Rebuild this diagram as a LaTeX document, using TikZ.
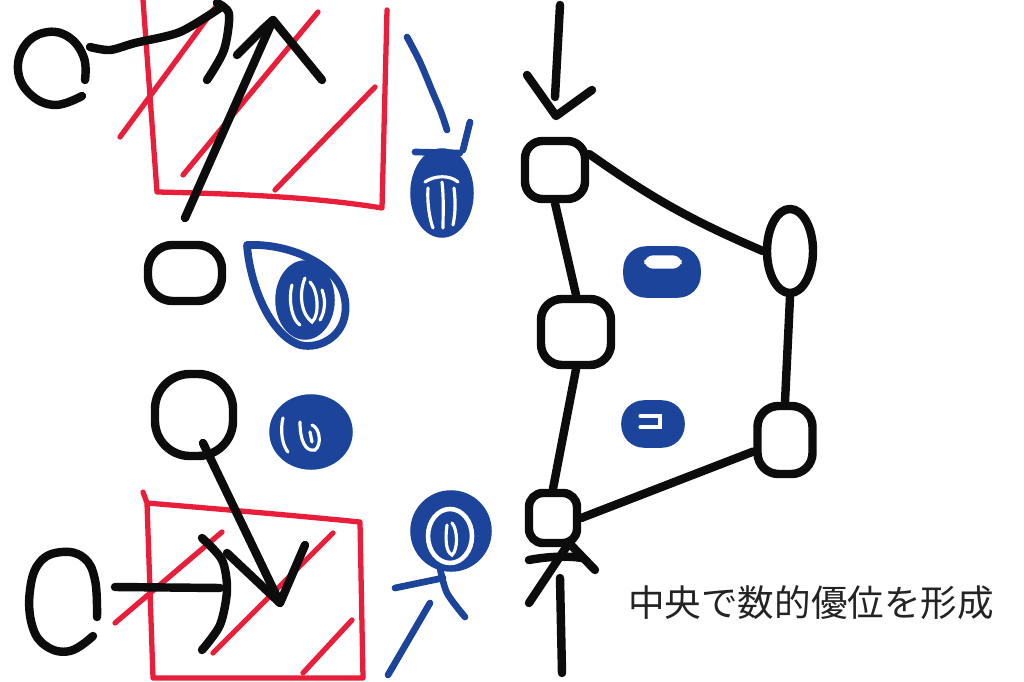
\documentclass[tikz,border=0pt]{standalone}
\usepackage{fontspec}
\newfontfamily\jp{Noto Sans CJK JP}
\usetikzlibrary{shapes.geometric}
\definecolor{pen}{RGB}{12,12,12}
\definecolor{rd}{RGB}{232,30,58}
\definecolor{bl}{RGB}{28,68,155}
\definecolor{txt}{RGB}{35,35,35}
\tikzset{
  ink/.style={draw=pen, line width=2.4pt, line cap=round, line join=round},
  redink/.style={draw=rd, line width=1.5pt, line cap=round, line join=round},
  blueink/.style={draw=bl, line width=1.9pt, line cap=round, line join=round},
  gap/.style={draw=white, line width=0.9pt, line cap=round},
  gnode/.style={ink, rounded corners=5pt, inner sep=0pt},
  blob/.style={fill=bl, draw=bl, line width=1pt, inner sep=0pt},
}
\begin{document}
\begin{tikzpicture}[x=0.01cm, y=-0.01cm]
\useasboundingbox (0,0) rectangle (1024,682);
\fill[white] (0,0) rectangle (1024,682);

% ---------- red zones ----------
\draw[redink] (143,0) -- (157,192) .. controls (250,194) and (320,198) .. (382,208) -- (387,10);
\draw[redink] (120,137) -- (217,5);
\draw[redink] (183,175) -- (318,12);
\draw[redink] (275,190) -- (375,87);

\draw[redink] (143,492) -- (147,503) .. controls (230,510) and (300,516) .. (360,522) -- (363,678) -- (153,678) -- (147,503);
\draw[redink] (115,623) -- (222,532);
\draw[redink] (213,653) -- (333,533);
\draw[redink] (303,673) -- (352,620);

% ---------- left black players ----------
\draw[ink] plot[smooth, tension=0.7] coordinates {(85,80) (84,58) (70,38) (48,32) (26,44) (18,70) (30,94) (55,105) (82,96)};
\draw[ink] plot[smooth, tension=0.7] coordinates {(97,617) (95,580) (84,558) (62,552) (40,562) (30,590) (32,625) (46,646) (70,651) (93,636)};

\node[gnode, rounded corners=7pt, minimum width=0.74cm, minimum height=0.56cm] (p1) at (185,273) {};
\node[gnode, rounded corners=10pt, minimum width=0.78cm, minimum height=0.82cm] (p2) at (194,415) {};

% arrow from top-left player
\coordinate (a1s) at (90,47);
\coordinate (a1t) at (220,8);
\draw[ink] plot[smooth] coordinates {(a1s) (110,50) (135,43) (180,32) (a1t)};
\draw[ink] plot[smooth] coordinates {(217,3) (229,14) (224,50) (207,80)};

% long up arrow
\coordinate (a2s) at (185,218);
\coordinate (a2t) at (273,20);
\draw[ink] (a2s) -- (a2t);
\draw[ink] (237,55) -- (262,30) -- (a2t) -- (322,80);

% arrow from lower player into zone
\coordinate (a3t) at (280,603);
\draw[ink] (203,443) -- (a3t);
\draw[ink] (227,553) -- (a3t) -- (305,545);

% arrow from bottom-left player
\coordinate (a4s) at (115,587);
\coordinate (a4t) at (220,588);
\draw[ink] (a4s) -- (a4t);
\draw[ink] plot[smooth] coordinates {(202,538) (222,560) (227,590) (220,625) (202,650)};

% ---------- blue scribbles (left) ----------
\draw[blueink] plot[smooth] coordinates {(407,37) (420,62) (433,93) (441,112) (447,130)};
\draw[blueink] (470,122) -- (463,150);
\draw[blob] (442,193) ellipse [x radius=30, y radius=43];
\draw[blueink] (415,152) -- (460,153);
\draw[gap] (428,188) .. controls (427,205) and (430,220) .. (433,228);
\draw[gap] (442,182) .. controls (444,200) and (443,215) .. (443,228);
\draw[gap] (454,188) .. controls (456,205) and (455,215) .. (453,225);
\draw[gap] (425,182) .. controls (435,175) and (450,175) .. (458,182);

% big teardrop spiral
\draw[blueink, line width=2.2pt] (247,245) .. controls (290,243) and (340,265) .. (345,300)
   .. controls (350,335) and (320,350) .. (300,345) .. controls (270,335) and (250,285) .. cycle;
\draw[blob] (305,300) ellipse [x radius=28, y radius=38];
\draw[gap] (292,285) .. controls (288,300) and (292,320) .. (300,325);
\draw[gap] (305,278) .. controls (298,295) and (302,315) .. (312,322) .. controls (320,315) and (318,290) .. (310,282);
\draw[gap] (322,290) .. controls (326,300) and (325,312) .. (320,320);

% mid spiral
\draw[blob] (311,432) ellipse [x radius=40, y radius=36];
\draw[gap] (283,418) .. controls (280,430) and (282,445) .. (288,452);
\draw[gap] (300,422) .. controls (300,440) and (305,452) .. (315,450) .. controls (322,445) and (320,428) .. (312,425);
\draw[gap] (310,432) -- (312,442);

% lower-right spiral with legs
\draw[blob] (451,531) ellipse [x radius=39, y radius=39];
\draw[gap, line width=1.3pt] (450,536) ellipse [x radius=22, y radius=27];
\draw[gap] (447,525) .. controls (445,540) and (446,552) .. (452,555) .. controls (458,550) and (458,530) .. (452,523);
\draw[blueink] (395,588) -- (443,578);
\draw[blueink] plot[smooth] coordinates {(440,568) (447,593) (465,617)};
\draw[blueink] (430,603) -- (388,675);

% ---------- right formation ----------
\coordinate (dn1) at (560,5);
\coordinate (dn2) at (556,116);
\draw[ink] (dn1) -- (555,97);
\draw[ink] (527,75) -- (dn2) -- (592,90);

\node[gnode, rounded corners=5pt, minimum width=0.60cm, minimum height=0.58cm] (A) at (555,170) {};
\node[ink, ellipse, inner sep=0pt, minimum width=0.46cm, minimum height=0.84cm] (B) at (790,251) {};
\node[gnode, rounded corners=6pt, minimum width=0.70cm, minimum height=0.66cm] (C) at (576,332) {};
\node[gnode, rounded corners=6pt, minimum width=0.55cm, minimum height=0.68cm] (D) at (785,440) {};
\node[gnode, rounded corners=4pt, minimum width=0.48cm, minimum height=0.50cm] (E) at (553,518) {};

\draw[ink] (A.25) to[bend right=6] (B.west);
\draw[ink] (A.south) -- (C.north);
\draw[ink] (B.south) -- (D.north);
\draw[ink] (C.south) -- (E.north);
\draw[ink] (D.200) -- (E.east);

\node[blob, rounded corners=6pt, minimum width=0.74cm, minimum height=0.48cm] (m1) at (662,272) {};
\draw[gap, fill=white, rounded corners=2pt] (646,257) rectangle (680,267);
\node[blob, rounded corners=6pt, minimum width=0.60cm, minimum height=0.44cm] (m2) at (653,424) {};
\draw[gap] (640,416) -- (660,416) -- (660,427) -- (640,427);

% bottom up-arrow through E
\coordinate (up1) at (562,673);
\coordinate (up2) at (560,578);
\draw[ink] (up1) -- (up2);
\draw[ink] (529,603) -- (569,543) -- (595,570);
\draw[ink] (529,560) .. controls (550,556) and (570,556) .. (582,558);

\node[text=txt, font=\jp\fontsize{10.4}{12}\selectfont, inner sep=0pt] (lbl) at (811,603) {中央で数的優位を形成};
\end{tikzpicture}
\end{document}
